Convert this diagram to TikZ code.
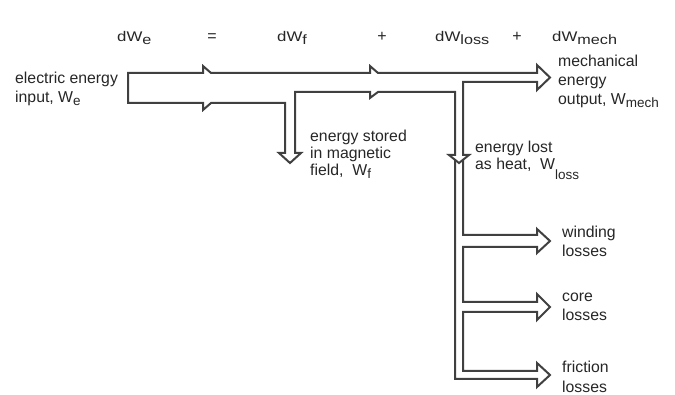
\documentclass[tikz,border=0pt]{standalone}
\usepackage{fontspec}
\setmainfont{Liberation Sans}
\newfontfamily\eqfont[FakeStretch=1.2]{Liberation Sans}
\newcommand{\lowsub}[2][0.35ex]{\raisebox{-#1}{\fontsize{13.5}{13.5}\selectfont #2}}
\begin{document}
\begin{tikzpicture}[x=1pt,y=-1pt,
  flow/.style={draw=black!75, line width=2pt, line join=miter},
  lbl/.style={anchor=base west, inner sep=0pt, font=\fontsize{15.8}{18}\selectfont, text=black!85},
  eqt/.style={anchor=base west, inner sep=0pt, font=\eqfont\fontsize{14}{16}\selectfont, text=black!85},
  eqs/.style={anchor=base, inner sep=0pt, font=\fontsize{16}{16}\selectfont, text=black!85}]
\useasboundingbox (0,0) rectangle (675,395);

% equation row
\node[eqt] (dwe) at (117,42) {dW\lowsub{e}};
\node[eqs] (eq) at (212,42) {=};
\node[eqt] (dwf) at (277,42) {dW\lowsub{f}};
\node[eqs] (p1) at (382,42) {+};
\node[eqt] (dwl) at (435,42) {dW\lowsub{loss}};
\node[eqs] (p2) at (517,42) {+};
\node[eqt] (dwm) at (552,42) {dW\lowsub{mech}};

% main flow outline
\draw[flow] (128,103) -- (128,73) -- (203,73) -- (203,66) -- (211,73)
  -- (370,73) -- (370,66) -- (378,73) -- (537,73) -- (537,65) -- (550,77.5)
  -- (537,90) -- (537,82) -- (463,82) -- (463,155) -- (469,155) -- (459,163)
  -- (449,155) -- (455,155) -- (455,92) -- (378,92) -- (370,98) -- (370,92)
  -- (295,92) -- (295,153) -- (301,153) -- (290,163) -- (279,153) -- (285,153)
  -- (285,103) -- (211,103) -- (203,110) -- (203,103) -- cycle;

% loss distribution
\draw[flow] (455,160) -- (455,379) -- (537,379) -- (537,387) -- (550,375)
  -- (537,363) -- (537,371) -- (463,371) -- (463,312) -- (537,312) -- (537,320)
  -- (550,307) -- (537,294) -- (537,302) -- (463,302) -- (463,247) -- (537,247)
  -- (537,253) -- (550,241) -- (537,229) -- (537,235) -- (463,235) -- (463,160);

% labels
\node[lbl] (in1) at (15,84) {electric energy};
\node[lbl] (in2) at (15,103) {input, W\lowsub{e}};
\node[lbl] (m1) at (558,67) {mechanical};
\node[lbl] (m2) at (558,86) {energy};
\node[lbl] (m3) at (558,105) {output, W\lowsub{mech}};
\node[lbl] (s1) at (310,142) {energy stored};
\node[lbl] (s2) at (310,159) {in magnetic};
\node[lbl] (s3) at (310,176) {field,\ \ W\lowsub{f}};
\node[lbl] (l1) at (475,153) {energy lost};
\node[lbl] (l2) at (475,170) {as heat,\ \ W\lowsub[0.6em]{loss}};
\node[lbl] (w1) at (562,238) {winding};
\node[lbl] (w2) at (562,257) {losses};
\node[lbl] (c1) at (562,302) {core};
\node[lbl] (c2) at (562,321) {losses};
\node[lbl] (f1) at (562,373) {friction};
\node[lbl] (f2) at (562,392) {losses};
\end{tikzpicture}
\end{document}
